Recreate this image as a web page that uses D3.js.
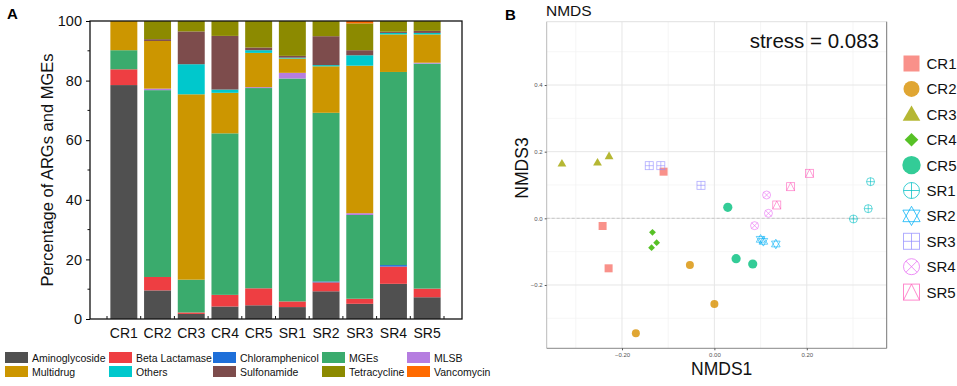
<!DOCTYPE html>
<html>
<head>
<meta charset="utf-8">
<title>ARGs and NMDS</title>
<style>
  body { margin: 0; background: #fff; }
  svg { font-family: "Liberation Sans", Arial, sans-serif; }
</style>
</head>
<body>
<svg width="957" height="386"></svg>
<script src="https://d3js.org/d3.v7.min.js"></script>
<script>
// ---- panel A data (percent) ----
const samples = ["CR1", "CR2", "CR3", "CR4", "CR5", "SR1", "SR2", "SR3", "SR4", "SR5"];
const categories = ["Aminoglycoside", "Beta Lactamase", "Chloramphenicol", "MGEs", "MLSB",
                    "Multidrug", "Others", "Sulfonamide", "Tetracycline", "Vancomycin"];
const catColors = ["#505050", "#ee3e42", "#1e6fd9", "#3aab6d", "#b57de0",
                   "#cc9600", "#00c8cc", "#7d4c4c", "#8c8a00", "#ff6a00"];
const aminoglycoside = [78.5, 9.6, 1.7, 4.2, 4.6, 4.0, 9.3, 5.1, 11.8, 7.3];
const betaLactamase  = [5.3, 4.5, 0.5, 3.9, 5.7, 1.9, 3.0, 1.7, 5.8, 2.9];
const chloramphenicol = [0, 0, 0, 0, 0, 0, 0.3, 0, 0.5, 0];
const mges           = [6.4, 62.7, 11.0, 54.2, 67.2, 74.8, 56.6, 28.1, 64.8, 75.5];
const mlsb           = [0, 0.5, 0, 0, 0.3, 1.9, 0, 0.6, 0, 0.3];
const multidrug      = [9.8, 16.0, 62.2, 13.6, 11.5, 4.8, 15.6, 49.5, 12.6, 9.5];
const others         = [0, 0, 10.1, 1.1, 0.9, 0.3, 0.4, 3.5, 0.5, 0.5];
const sulfonamide    = [0, 0.6, 11.0, 18.0, 0.9, 0.6, 9.7, 1.7, 0.4, 0.7];
const tetracycline   = [0, 6.1, 3.5, 5.0, 8.9, 11.7, 5.1, 9.0, 3.6, 3.3];
const vancomycin     = [0, 0, 0, 0, 0, 0, 0, 0.8, 0, 0];
const yTicks = [0, 20, 40, 60, 80, 100];

// ---- panel B data (NMDS scores) ----
const groups = ["CR1", "CR2", "CR3", "CR4", "CR5", "SR1", "SR2", "SR3", "SR4", "SR5"];
const groupColors = ["#F8766D", "#D89000", "#A3A500", "#39B600", "#00BF7D",
                     "#00BFC4", "#00B0F6", "#9590FF", "#E76BF3", "#FF62BC"];
const pointGroup = ["CR1", "CR1", "CR1", "CR2", "CR2", "CR2", "CR3", "CR3", "CR3",
                    "CR4", "CR4", "CR4", "CR5", "CR5", "CR5", "SR1", "SR1", "SR1",
                    "SR2", "SR2", "SR2", "SR3", "SR3", "SR3", "SR4", "SR4", "SR4",
                    "SR5", "SR5", "SR5"];
const nmds1 = [-0.110, -0.242, -0.229, -0.053, 0.000, -0.170, -0.330, -0.253, -0.228,
               -0.134, -0.125, -0.136, 0.029, 0.047, 0.083, 0.301, 0.333, 0.338,
               0.100, 0.106, 0.133, -0.141, -0.116, -0.029, 0.113, 0.117, 0.087,
               0.135, 0.165, 0.206];
const nmds3 = [0.140, -0.023, -0.150, -0.140, -0.257, -0.345, 0.165, 0.168, 0.187,
               -0.042, -0.073, -0.088, 0.033, -0.121, -0.137, -0.002, 0.029, 0.110,
               -0.063, -0.069, -0.077, 0.158, 0.158, 0.099, 0.070, 0.015, -0.022,
               0.040, 0.095, 0.135];
const xTicksB = [-0.2, 0.0, 0.2];
const yTicksB = [-0.2, 0.0, 0.2, 0.4];

const svg = d3.select("svg");

// ================= Panel A =================
const A = {left: 90, right: 462, top: 21, bottom: 319};
const series = [aminoglycoside, betaLactamase, chloramphenicol, mges, mlsb,
                multidrug, others, sulfonamide, tetracycline, vancomycin];
const table = samples.map((s, i) => {
  const row = {sample: s};
  categories.forEach((c, k) => row[c] = series[k][i]);
  return row;
});
const stacked = d3.stack().keys(categories)(table);

const x = d3.scaleBand().domain(samples).range([107, 444]).paddingInner(0.2).paddingOuter(0.1);
const y = d3.scaleLinear().domain([0, 100]).range([A.bottom, A.top]);
const color = d3.scaleOrdinal().domain(categories).range(catColors);

svg.append("g").selectAll("g")
  .data(stacked)
  .join("g")
    .attr("fill", d => color(d.key))
  .selectAll("rect")
  .data(d => d)
  .join("rect")
    .attr("x", d => x(d.data.sample))
    .attr("y", d => y(d[1]))
    .attr("width", x.bandwidth())
    .attr("height", d => y(d[0]) - y(d[1]));

svg.append("rect")
  .attr("x", A.left).attr("y", A.top)
  .attr("width", A.right - A.left).attr("height", A.bottom - A.top)
  .attr("fill", "none").attr("stroke", "#111").attr("stroke-width", 1.3);

const yAxis = svg.append("g")
  .attr("transform", `translate(${A.left},0)`)
  .call(d3.axisLeft(y).tickValues(yTicks).tickSize(4).tickPadding(4));
yAxis.select(".domain").remove();
yAxis.selectAll("text").attr("font-size", 14.5).attr("fill", "#111")
  .attr("font-family", "Liberation Sans, Arial, sans-serif");

svg.append("g").selectAll("line")
  .data(d3.range(10, 100, 20))
  .join("line")
    .attr("x1", A.left - 2.5).attr("x2", A.left)
    .attr("y1", d => y(d)).attr("y2", d => y(d))
    .attr("stroke", "#111");

// boundary ticks on the x axis
svg.append("g").selectAll("line")
  .data(d3.range(0, samples.length + 1))
  .join("line")
    .attr("x1", i => x.range()[0] + i * x.step())
    .attr("x2", i => x.range()[0] + i * x.step())
    .attr("y1", A.bottom).attr("y2", A.bottom - 3)
    .attr("stroke", "#111");

svg.append("g").selectAll("text")
  .data(samples)
  .join("text")
    .attr("x", d => x(d) + x.bandwidth() / 2)
    .attr("y", 338)
    .attr("text-anchor", "middle")
    .attr("font-size", 14)
    .attr("fill", "#111")
    .text(d => d);

svg.append("text")
  .attr("transform", `translate(53,${(A.top + A.bottom) / 2}) rotate(-90)`)
  .attr("text-anchor", "middle")
  .attr("font-size", 16.5)
  .attr("fill", "#111")
  .text("Percentage of ARGs and MGEs");

svg.append("text")
  .attr("x", 7).attr("y", 19)
  .attr("font-size", 15).attr("font-weight", "bold")
  .text("A");

// legend A
const legCols = [5, 109, 213, 322, 407];
const legA = svg.append("g").selectAll("g")
  .data(categories)
  .join("g")
    .attr("transform", (d, i) => `translate(${legCols[i % 5]},${i < 5 ? 352 : 366})`);
legA.append("rect")
  .attr("width", 23).attr("height", 11)
  .attr("fill", d => color(d));
legA.append("text")
  .attr("x", 27).attr("y", 9.5)
  .attr("font-size", 10.5)
  .attr("fill", "#111")
  .text(d => d);

// ================= Panel B =================
const B = {left: 546.7, right: 886.7, top: 21.7, bottom: 348.3};
const xb = d3.scaleLinear().domain([-0.363, 0.373]).range([B.left, B.right]);
const yb = d3.scaleLinear().domain([-0.39, 0.59]).range([B.bottom, B.top]);
const gcolor = d3.scaleOrdinal().domain(groups).range(groupColors);

const grid = svg.append("g");
const xMinor = [-0.3, -0.1, 0.1, 0.3];
const yMinor = [-0.3, -0.1, 0.1, 0.3, 0.5];
grid.selectAll(".vmin").data(xMinor).join("line")
  .attr("x1", d => xb(d)).attr("x2", d => xb(d))
  .attr("y1", B.top).attr("y2", B.bottom)
  .attr("stroke", "#f2f2f2").attr("stroke-width", 0.7);
grid.selectAll(".hmin").data(yMinor).join("line")
  .attr("y1", d => yb(d)).attr("y2", d => yb(d))
  .attr("x1", B.left).attr("x2", B.right)
  .attr("stroke", "#f2f2f2").attr("stroke-width", 0.7);
grid.selectAll(".vmaj").data(xTicksB).join("line")
  .attr("x1", d => xb(d)).attr("x2", d => xb(d))
  .attr("y1", B.top).attr("y2", B.bottom)
  .attr("stroke", "#e6e6e6").attr("stroke-width", 1);
grid.selectAll(".hmaj").data(yTicksB).join("line")
  .attr("y1", d => yb(d)).attr("y2", d => yb(d))
  .attr("x1", B.left).attr("x2", B.right)
  .attr("stroke", "#e6e6e6").attr("stroke-width", 1);

// zero reference line
svg.append("line")
  .attr("x1", B.left).attr("x2", B.right)
  .attr("y1", yb(0)).attr("y2", yb(0))
  .attr("stroke", "#c8c8c8").attr("stroke-dasharray", "3,2");

svg.append("line").attr("x1", B.left).attr("x2", B.right).attr("y1", B.top).attr("y2", B.top)
  .attr("stroke", "#e0e0e0");
svg.append("line").attr("x1", B.left).attr("x2", B.left).attr("y1", B.top).attr("y2", B.bottom)
  .attr("stroke", "#bbb");
svg.append("line").attr("x1", B.left).attr("x2", B.right).attr("y1", B.bottom).attr("y2", B.bottom)
  .attr("stroke", "#888");
svg.append("line").attr("x1", B.right).attr("x2", B.right).attr("y1", B.top).attr("y2", B.bottom)
  .attr("stroke", "#777");

const xAxisB = svg.append("g")
  .attr("transform", `translate(0,${B.bottom})`)
  .call(d3.axisBottom(xb).tickValues(xTicksB).tickFormat(d3.format(".2f")).tickSize(2).tickPadding(2));
xAxisB.select(".domain").remove();
xAxisB.selectAll("line").attr("stroke", "#555");
xAxisB.selectAll("text").attr("font-size", 6).attr("fill", "#555")
  .attr("font-family", "Liberation Sans, Arial, sans-serif");

const yAxisB = svg.append("g")
  .attr("transform", `translate(${B.left},0)`)
  .call(d3.axisLeft(yb).tickValues(yTicksB).tickFormat(d3.format(".1f")).tickSize(2).tickPadding(2));
yAxisB.select(".domain").remove();
yAxisB.selectAll("line").attr("stroke", "#555");
yAxisB.selectAll("text").attr("font-size", 6).attr("fill", "#555")
  .attr("font-family", "Liberation Sans, Arial, sans-serif");

svg.append("text")
  .attr("x", (B.left + B.right) / 2 + 5).attr("y", 375)
  .attr("text-anchor", "middle").attr("font-size", 17.5).attr("fill", "#111")
  .text("NMDS1");
svg.append("text")
  .attr("transform", `translate(528,168) rotate(-90)`)
  .attr("text-anchor", "middle").attr("font-size", 17.5).attr("fill", "#111")
  .text("NMDS3");
svg.append("text")
  .attr("x", 546).attr("y", 16)
  .attr("font-size", 15.5).attr("fill", "#111")
  .text("NMDS");
svg.append("text")
  .attr("x", 505).attr("y", 20)
  .attr("font-size", 15).attr("font-weight", "bold")
  .text("B");
svg.append("text")
  .attr("x", 879).attr("y", 48)
  .attr("text-anchor", "end").attr("font-size", 20.5).attr("fill", "#111")
  .text("stress = 0.083");

// symbol drawing (ggplot shapes 15,16,17,18,16,10,11,12,13,14)
function drawSymbol(g, grp, s) {
  const c = gcolor(grp);
  const k = groups.indexOf(grp);
  const h = s / 2;
  if (k === 0) {
    g.append("rect").attr("x", -h).attr("y", -h).attr("width", s).attr("height", s)
      .attr("fill", c).attr("fill-opacity", 0.8);
  } else if (k === 1 || k === 4) {
    g.append("circle").attr("r", k === 4 ? h * 1.15 : h).attr("fill", c).attr("fill-opacity", 0.8);
  } else if (k === 2) {
    g.append("path").attr("d", `M0,${-h * 1.1}L${h * 1.1},${h * 0.8}L${-h * 1.1},${h * 0.8}Z`)
      .attr("fill", c).attr("fill-opacity", 0.8);
  } else if (k === 3) {
    const d = h * 0.85;
    g.append("path").attr("d", `M0,${-d}L${d},0L0,${d}L${-d},0Z`)
      .attr("fill", c).attr("fill-opacity", 0.85);
  } else {
    const p = g.append("g").attr("fill", "none").attr("stroke", c)
      .attr("stroke-opacity", 0.75).attr("stroke-width", s > 12 ? 1 : 0.8);
    if (k === 5) {
      p.append("circle").attr("r", h);
      p.append("path").attr("d", `M${-h},0H${h}M0,${-h}V${h}`);
    } else if (k === 6) {
      const t = h * 1.2;
      p.append("path").attr("d",
        `M0,${-t}L${t * 0.9},${t * 0.6}L${-t * 0.9},${t * 0.6}Z` +
        `M0,${t}L${t * 0.9},${-t * 0.6}L${-t * 0.9},${-t * 0.6}Z`);
    } else if (k === 7) {
      p.append("rect").attr("x", -h).attr("y", -h).attr("width", s).attr("height", s);
      p.append("path").attr("d", `M${-h},0H${h}M0,${-h}V${h}`);
    } else if (k === 8) {
      p.append("circle").attr("r", h);
      const q = h * 0.707;
      p.append("path").attr("d", `M${-q},${-q}L${q},${q}M${-q},${q}L${q},${-q}`);
    } else {
      p.append("rect").attr("x", -h).attr("y", -h).attr("width", s).attr("height", s);
      p.append("path").attr("d", `M${-h},${h}L0,${-h}L${h},${h}`);
    }
  }
}

const pts = svg.append("g").selectAll("g")
  .data(pointGroup.map((g, i) => ({g, x: nmds1[i], y: nmds3[i]})))
  .join("g")
    .attr("transform", d => `translate(${xb(d.x)},${yb(d.y)})`);
pts.each(function(d) { drawSymbol(d3.select(this), d.g, 8); });

// legend B
const legB = svg.append("g").selectAll("g")
  .data(groups)
  .join("g")
    .attr("transform", (d, i) => `translate(911.5,${63.5 + i * 25.4})`);
legB.each(function(d) { drawSymbol(d3.select(this), d, 16); });
legB.append("text")
  .attr("x", 15).attr("y", 5.5)
  .attr("font-size", 15).attr("fill", "#111")
  .text(d => d);
</script>
</body>
</html>
